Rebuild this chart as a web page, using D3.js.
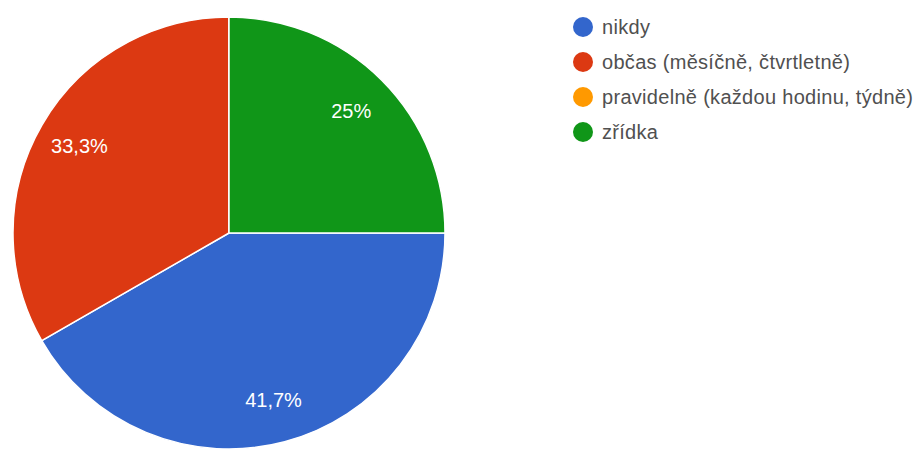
<!DOCTYPE html>
<html>
<head>
<meta charset="utf-8">
<script src="https://cdn.jsdelivr.net/npm/d3@7"></script>
<style>
  body { margin: 0; background: #fff; }
  svg { display: block; font-family: "Liberation Sans", Arial, sans-serif; }
</style>
</head>
<body>
<script>
// answer categories and share of responses (%)
var categories = ["nikdy", "občas (měsíčně, čtvrtletně)", "pravidelně (každou hodinu, týdně)", "zřídka"];
var values = [41.7, 33.3, 0, 25];
var labels = ["41,7%", "33,3%", "", "25%"];
var colors = ["#3366cc", "#dc3912", "#ff9900", "#109618"];

var width = 919;
var height = 450;

var svg = d3.select("body")
            .append("svg")
            .attr("width", width)
            .attr("height", height);

var cx = 229, cy = 233, radius = 216;

var pie = d3.pie()
            .sort(null)
            .startAngle(Math.PI / 2)
            .endAngle(Math.PI / 2 + 2 * Math.PI)
            .value(function(d) { return d; });

var arc = d3.arc().innerRadius(0).outerRadius(radius);
var labelArc = d3.arc().innerRadius(radius * 0.8).outerRadius(radius * 0.8);

var arcs = pie(values);

var g = svg.append("g")
           .attr("transform", "translate(" + cx + "," + cy + ")");

g.selectAll(".slice")
  .data(arcs)
  .enter().append("path")
  .attr("class", "slice")
  .attr("d", arc)
  .attr("fill", function(d, i) { return colors[i]; })
  .attr("stroke", "#fff")
  .attr("stroke-width", 1.5);

g.selectAll(".pct")
  .data(arcs)
  .enter().append("text")
  .attr("class", "pct")
  .attr("transform", function(d) { return "translate(" + labelArc.centroid(d) + ")"; })
  .attr("text-anchor", "middle")
  .attr("dy", "0.35em")
  .style("font-size", "20px")
  .style("fill", "#fff")
  .text(function(d, i) { return labels[i]; });

// legend
var legend = svg.append("g")
                .attr("transform", "translate(583,27)");

var item = legend.selectAll(".item")
  .data(categories)
  .enter().append("g")
  .attr("class", "item")
  .attr("transform", function(d, i) { return "translate(0," + i * 35 + ")"; });

item.append("circle")
  .attr("r", 10)
  .attr("fill", function(d, i) { return colors[i]; });

item.append("text")
  .attr("x", 19)
  .attr("dy", "0.35em")
  .style("font-size", "20px")
  .style("letter-spacing", "0.3px")
  .style("fill", "#505050")
  .text(function(d) { return d; });
</script>
</body>
</html>
